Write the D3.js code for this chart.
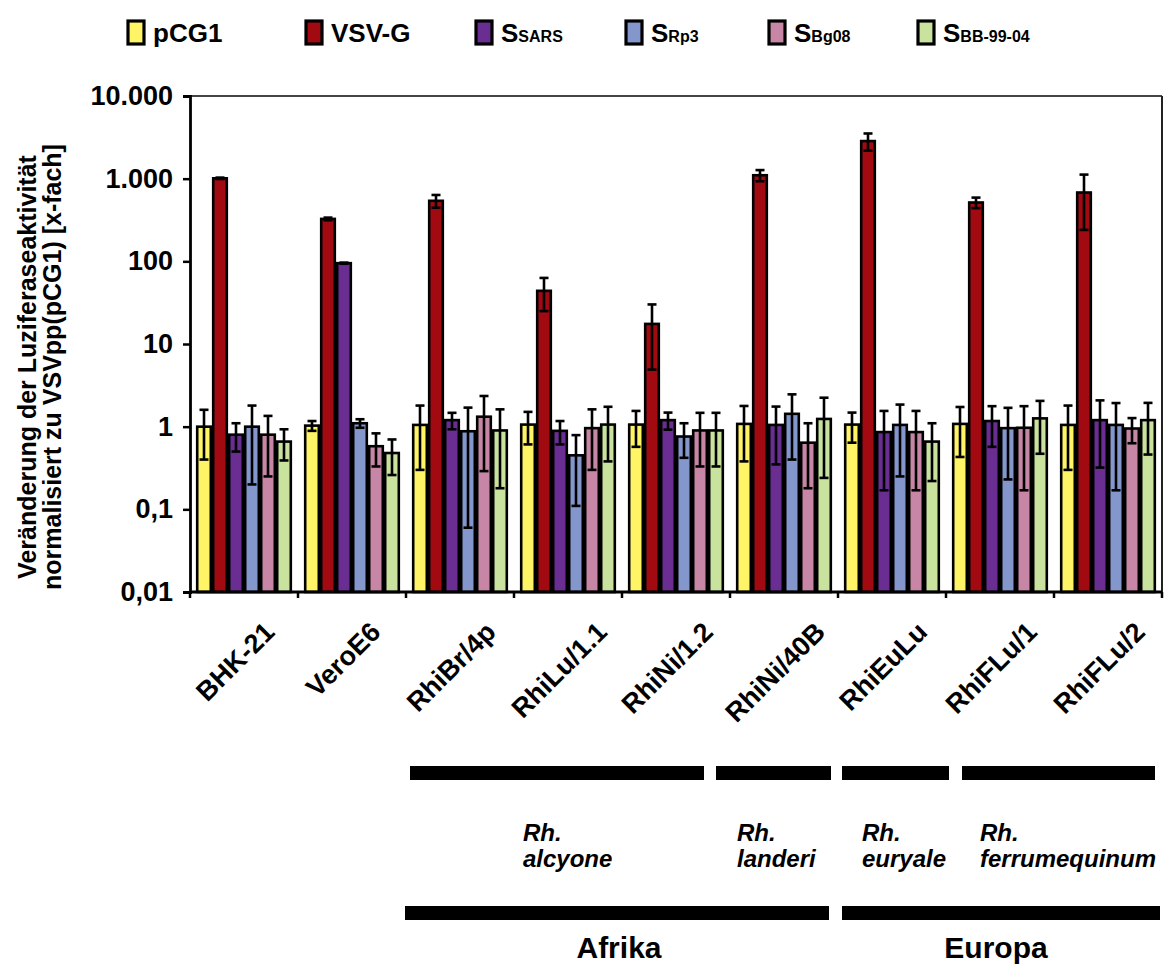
<!DOCTYPE html>
<html><head><meta charset="utf-8">
<script src="https://cdn.jsdelivr.net/npm/d3@7/dist/d3.min.js"></script>
<style>body{margin:0;background:#fff}svg{display:block;font-family:"Liberation Sans",Arial,sans-serif}</style>
</head><body><svg id="c" width="1171" height="964"></svg>
<script>
const categories = ["BHK-21","VeroE6","RhiBr/4p","RhiLu/1.1","RhiNi/1.2","RhiNi/40B","RhiEuLu","RhiFLu/1","RhiFLu/2"];
const seriesNames = ["pCG1","VSV-G","SARS","Rp3","Bg08","BB-99-04"];
const seriesColors = ["#FFF466","#A00A10","#6A2D92","#8497CC","#C886A6","#C9E39E"];
const pCG1   = [1.0, 1.03, 1.05, 1.06, 1.06, 1.08, 1.06, 1.08, 1.05];
const pCG1Err= [0.6, 0.14, 0.75, 0.45, 0.49, 0.7, 0.42, 0.65, 0.75];
const vsvg   = [1010, 326, 540, 44, 17.5, 1100, 2850, 515, 680];
const vsvgErr= [20, 12, 95, 19, 12.6, 170, 670, 75, 440];
const sSARS  = [0.8, 95, 1.2, 0.89, 1.2, 1.05, 0.86, 1.17, 1.2];
const sSARSErr=[0.3, 1.5, 0.27, 0.28, 0.28, 0.7, 0.69, 0.6, 0.88];
const sRp3   = [1.0, 1.1, 0.88, 0.45, 0.76, 1.43, 1.05, 0.96, 1.05];
const sRp3Err= [0.8, 0.13, 0.82, 0.34, 0.34, 1.03, 0.8, 0.73, 0.88];
const sBg08  = [0.8, 0.58, 1.32, 0.96, 0.9, 0.64, 0.86, 0.97, 0.95];
const sBg08Err=[0.55, 0.25, 1.03, 0.66, 0.57, 0.46, 0.69, 0.8, 0.32];
const sBB    = [0.66, 0.48, 0.9, 1.06, 0.9, 1.24, 0.66, 1.26, 1.2];
const sBBErr = [0.27, 0.22, 0.72, 0.68, 0.57, 1.0, 0.44, 0.79, 0.74];
const yTickValues = [0.01, 0.1, 1, 10, 100, 1000, 10000];
const yTickLabels = ["0,01","0,1","1","10","100","1.000","10.000"];
const speciesGroups = [
  {name:["Rh.","alcyone"], cats:["RhiBr/4p","RhiLu/1.1","RhiNi/1.2"]},
  {name:["Rh.","landeri"], cats:["RhiNi/40B"]},
  {name:["Rh.","euryale"], cats:["RhiEuLu"]},
  {name:["Rh.","ferrumequinum"], cats:["RhiFLu/1","RhiFLu/2"]}
];
const continents = [
  {name:"Afrika", cats:["RhiBr/4p","RhiLu/1.1","RhiNi/1.2","RhiNi/40B"]},
  {name:"Europa", cats:["RhiEuLu","RhiFLu/1","RhiFLu/2"]}
];

const values = [pCG1, vsvg, sSARS, sRp3, sBg08, sBB];
const errs = [pCG1Err, vsvgErr, sSARSErr, sRp3Err, sBg08Err, sBBErr];

const svg = d3.select("#c");
const L = 190, R = 1162, T = 96, B = 592;
const x = d3.scaleBand().domain(categories).range([L, R]).padding(0);
const xi = d3.scaleBand().domain(seriesNames).range([6, x.bandwidth()-6]).padding(0);
const y = d3.scaleLog().domain([0.01, 10000]).range([B, T]);

// frame
svg.append("line").attr("x1",L).attr("x2",R).attr("y1",T).attr("y2",T).attr("stroke","#444").attr("stroke-width",2);
svg.append("line").attr("x1",R).attr("x2",R).attr("y1",T).attr("y2",B).attr("stroke","#222").attr("stroke-width",2);

// bars
const data = [];
categories.forEach((c,ci)=>seriesNames.forEach((s,si)=>data.push({c,s,si,v:values[si][ci],e:errs[si][ci]})));
const g = svg.append("g");
g.selectAll("rect.bar").data(data).join("rect")
  .attr("x", d=>x(d.c)+xi(d.s)+1.2)
  .attr("width", xi.bandwidth()-2.4)
  .attr("y", d=>y(d.v))
  .attr("height", d=>B - y(d.v))
  .attr("fill", d=>seriesColors[d.si])
  .attr("stroke","#000").attr("stroke-width",2.6);

// error bars
const eg = svg.append("g").attr("stroke","#000").attr("stroke-width",2.6);
data.forEach(d=>{
  const cx = x(d.c)+xi(d.s)+xi.bandwidth()/2;
  const hi = d.v + d.e, lo = Math.max(d.v - d.e, 0.011);
  eg.append("line").attr("x1",cx).attr("x2",cx).attr("y1",y(hi)).attr("y2",y(lo));
  eg.append("line").attr("x1",cx-4.5).attr("x2",cx+4.5).attr("y1",y(hi)).attr("y2",y(hi));
  eg.append("line").attr("x1",cx-4.5).attr("x2",cx+4.5).attr("y1",y(lo)).attr("y2",y(lo));
});

// y axis
const yAxis = d3.axisLeft(y).tickValues(yTickValues).tickFormat((d,i)=>yTickLabels[i]).tickSize(7).tickPadding(10);
const ya = svg.append("g").attr("transform",`translate(${L},0)`).call(yAxis);
ya.select(".domain").attr("stroke","#000").attr("stroke-width",2.8);
ya.selectAll(".tick line").attr("stroke","#000").attr("stroke-width",2.5);
ya.selectAll(".tick text").attr("font-size",27).attr("font-weight","bold").attr("fill","#000").attr("font-family","Liberation Sans, Arial, sans-serif");

// x axis
const xa = svg.append("g").attr("transform",`translate(0,${B})`);
xa.append("line").attr("x1",L).attr("x2",R).attr("stroke","#000").attr("stroke-width",2.8);
const bounds = categories.map(c=>x(c)).concat([R]);
xa.selectAll("line.t").data(bounds).join("line").attr("class","t")
  .attr("x1",d=>d).attr("x2",d=>d).attr("y1",0).attr("y2",6).attr("stroke","#000").attr("stroke-width",2.5);
xa.selectAll("text").data(categories).join("text")
  .attr("font-size",27).attr("font-weight","bold").attr("fill","#000")
  .attr("text-anchor","middle")
  .text(d=>d)
  .each(function(d){
    const len = this.getComputedTextLength();
    const cx = x(d)+x.bandwidth()/2 - 9;
    const cy = 35 + len*0.3535;
    d3.select(this).attr("transform",`translate(${cx},${cy}) rotate(-45)`).attr("dy","0.35em");
  });

// y label
const yl = svg.append("text").attr("transform","translate(0,367) rotate(-90)").attr("text-anchor","middle")
  .attr("font-size",25).attr("font-weight","bold").attr("fill","#000");
yl.append("tspan").attr("x",0).attr("y",36).text("Veränderung der Luziferaseaktivität");
yl.append("tspan").attr("x",0).attr("y",61).text("normalisiert zu VSVpp(pCG1) [x-fach]");

// legend
const legX = [128, 306, 476, 626, 769, 918];
const lg = svg.append("g");
seriesNames.forEach((s,i)=>{
  lg.append("rect").attr("x",legX[i]).attr("y",21).attr("width",16).attr("height",23)
    .attr("fill",seriesColors[i]).attr("stroke","#000").attr("stroke-width",3.2);
  const t = lg.append("text").attr("x",legX[i]+25).attr("y",42).attr("font-weight","bold").attr("fill","#000").attr("font-size",26);
  if (i<2) t.text(s);
  else { t.append("tspan").text("S"); t.append("tspan").attr("font-size",16).text(s); }
});

// species brackets
const insetL = [4, -14, 4, 16], insetR = [-26, -7, 3, -7];
speciesGroups.forEach((gp,i)=>{
  const x0 = x(gp.cats[0]) + insetL[i];
  const x1 = x(gp.cats[gp.cats.length-1]) + x.bandwidth() + insetR[i];
  svg.append("rect").attr("x",x0).attr("y",766).attr("width",x1-x0).attr("height",14).attr("fill","#000");
  const tx = [523, 737, 862, 980][i];
  const t = svg.append("text").attr("font-size",24).attr("font-weight","bold").attr("font-style","italic").attr("fill","#000");
  t.append("tspan").attr("x",tx).attr("y",841).text(gp.name[0]);
  t.append("tspan").attr("x",tx).attr("y",867).text(gp.name[1]);
});
const cInsL = [-1, 4], cInsR = [-9, -2];
continents.forEach((cg,i)=>{
  const x0 = x(cg.cats[0]) + cInsL[i];
  const x1 = x(cg.cats[cg.cats.length-1]) + x.bandwidth() + cInsR[i];
  svg.append("rect").attr("x",x0).attr("y",906).attr("width",x1-x0).attr("height",14).attr("fill","#000");
  svg.append("text").attr("x",(x0+x1)/2 + (i===0?2:-5)).attr("y",958).attr("text-anchor","middle")
    .attr("font-size",30).attr("font-weight","bold").attr("fill","#000").text(cg.name);
});
</script></body></html>
